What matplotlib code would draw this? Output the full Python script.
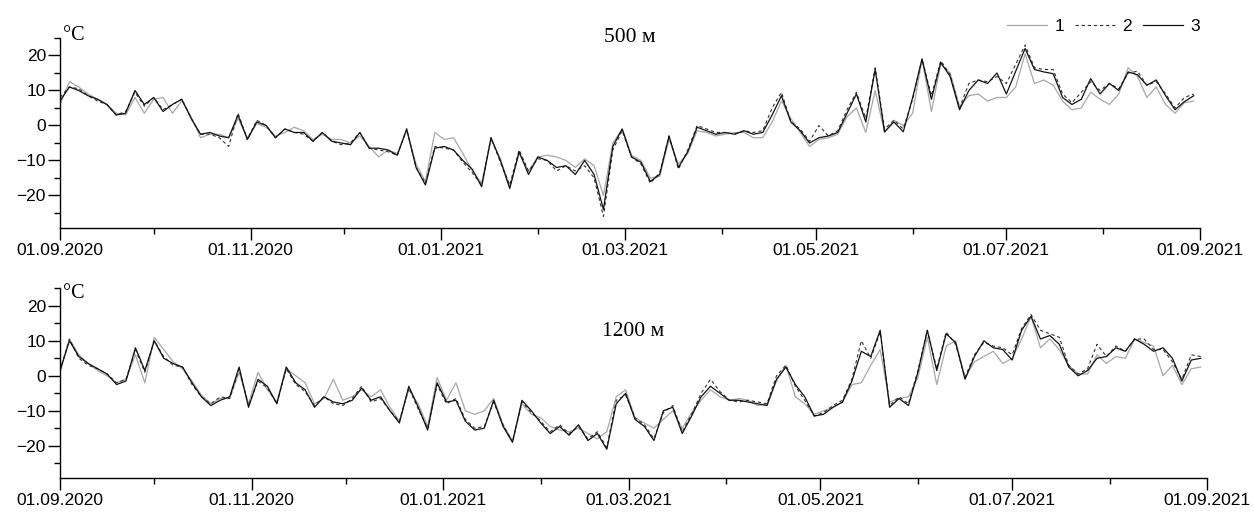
import matplotlib

matplotlib.use("Agg")
import matplotlib.dates as mdates
import matplotlib.pyplot as plt
import pandas as pd
from matplotlib.ticker import MultipleLocator


OUTPUT_PATH = "out.png"
START = pd.Timestamp("2020-09-01")
END = pd.Timestamp("2021-09-01")

# values read every 3 days from 01.09.2020; 1 - gray, 2 - dashed, 3 - black
t500_1 = [
    6, 12.5, 11, 9, 7.5, 6, 3.5, 3, 8, 3.5,
    7.5, 8, 3.5, 7, 2.5, -3.5, -2.5, -2.5, -3.5, 2,
    -3.5, 0.5, -0.5, -3, -2, -0.5, -1.5, -4, -2.5, -4,
    -4, -5, -3, -6, -9, -7, -8, -1.5, -11, -16,
    -2, -4, -3.5, -8, -13, -16.5, -4, -9.5, -17.5, -8,
    -13, -9, -8.5, -9, -10, -12, -9.5, -11.5, -20, -5,
    -1, -8.5, -10, -15, -14.5, -4, -11, -8, -1.5, -2,
    -3, -2.5, -2, -2, -3.5, -3.5, 1, 7, 2, -2,
    -6, -4, -3.5, -2.5, 2.5, 5, -2, 10, -2, 1.5,
    0, 3.5, 19, 4, 17.5, 15, 5.5, 8.5, 9, 7,
    8, 8, 11, 20.5, 12, 13, 11.5, 7, 4.5, 5,
    9.5, 7.5, 6, 9, 16.5, 14, 8, 11, 6, 3.5,
    6.5, 7,
]
t500_2 = [
    8, 11, 10.5, 8.5, 7, 6, 3, 4, 9.5, 5.5,
    8, 4.5, 6, 7.5, 2, -2.5, -2.5, -3.5, -6, 3.5,
    -4, 1.5, 0, -3.5, -1, -2, -2.5, -4.5, -2, -4.5,
    -5.5, -5, -2, -6.5, -7, -7.5, -8.5, -1, -12, -16.5,
    -6, -6.5, -7, -10.5, -13.5, -17, -3.5, -10.5, -17, -7,
    -13, -9.5, -10, -13, -11.5, -13, -11.5, -15, -26, -7,
    -1.5, -9, -11, -16.5, -13.5, -3, -12.5, -7, 0, -1,
    -2, -2, -2.5, -1.5, -2, -1.5, 5, 9.5, 1, -1,
    -4.5, 0, -3, -1.5, 4.5, 9.5, 2, 16.5, -1, 1.5,
    -1, 7.5, 19, 8.5, 18.5, 14.5, 5, 12, 13, 12.5,
    14, 12, 17.5, 23, 16.5, 16, 16, 9, 6.5, 9.5,
    12.5, 10, 12, 10.5, 15, 15.5, 11.5, 12.5, 9, 5,
    8, 9,
]
t500_3 = [
    7, 11, 10, 8.5, 7.5, 6, 3, 3.5, 10, 6,
    8, 4, 6, 7.5, 2, -2.5, -2, -3, -3.5, 3,
    -4, 1, 0, -3.5, -1, -2, -2, -4.5, -2, -4.5,
    -5, -5.5, -2, -6.5, -6.5, -7, -8.5, -1, -12, -17,
    -6.5, -6, -7, -10, -12.5, -17.5, -3.5, -10, -18, -7.5,
    -14, -9, -10, -12, -11.5, -14, -10, -14, -24, -6,
    -1, -9, -10.5, -16, -14, -3, -12, -7.5, -0.5, -1.5,
    -2.5, -2, -2.5, -1.5, -2.5, -2, 3, 8.5, 1, -1.5,
    -5, -3.5, -3, -2, 3.5, 9, 1, 16, -1.8, 1,
    -1.8, 8, 19, 7.5, 18, 14, 4.5, 10, 13, 12,
    15, 9, 15.5, 22, 16, 15.3, 14.8, 8, 6, 7.5,
    13.4, 9, 12, 10, 15.3, 14.5, 11.5, 13, 8.5, 4.5,
    6.8, 8.5,
]

t1200_1 = [
    1, 10.5, 6, 3.5, 1.5, 0, -2, -1, 6, -2,
    11, 7.5, 4, 2, -1.5, -5.5, -8, -6.5, -6.5, 1,
    -8, 1, -4, -7.5, 2, 0, -2, -8, -6.5, -1,
    -7, -6, -4, -6, -4, -9, -13, -4, -8, -14.5,
    -0.5, -7, -2, -10, -11, -10, -6.5, -14, -18.5, -8,
    -11, -12, -14.5, -15.5, -16, -15, -16.5, -18, -16, -6,
    -4, -12, -13.5, -15, -12.5, -10, -15, -10.5, -7, -4,
    -6, -7, -6.5, -7, -8.5, -8, -1.5, 3, -6, -8,
    -11, -10, -9, -7.5, -2.5, -2, 3, 7.5, -7.5, -6.5,
    -6, -0.5, 11, -2.5, 8.5, 10, -0.5, 4, 5.5, 7,
    3.5, 5, 10.5, 17, 8, 10.5, 7.5, 3, 0.5, 0.5,
    6, 3.5, 5.5, 5, 10.5, 9.5, 8.5, 0, 3, -2.5,
    2, 2.5,
]
t1200_2 = [
    1.5, 10.5, 5, 3, 2, 0.5, -2, -1, 7.5, 1,
    10, 5.5, 3, 2.5, -2.5, -6, -8, -6, -6.5, 2,
    -8.5, -1.5, -3.5, -8, 2, -2.5, -4.5, -8.5, -6, -8,
    -8.5, -6.5, -3, -7.5, -6.5, -10, -13, -3.5, -9.5, -15,
    -2.5, -8, -6.5, -12.5, -15, -14.5, -7.5, -14, -19, -7.5,
    -10.5, -13, -16, -14, -16.5, -14.5, -18, -16, -20.5, -7,
    -5.5, -12, -14, -18, -10.5, -8.5, -16, -11, -5, -1,
    -4.5, -7, -7.5, -7, -7.5, -8, 0, 3, -3, -7,
    -11.5, -10.5, -8.5, -7, -1, 10, 5, 12.5, -8.5, -6,
    -8, 1.5, 13, 2, 12.5, 9, -0.5, 6, 9.5, 8.5,
    8, 6, 13.5, 17.5, 13, 12, 11, 3, 0.5, 2,
    9, 5.5, 8.5, 7, 10.5, 10.5, 7.5, 7.5, 4, -1,
    6, 5.5,
]
t1200_3 = [
    1.5, 10, 5.5, 3.5, 2, 0.5, -2.5, -1.5, 8, 1.5,
    10, 5, 3.5, 2.5, -2, -6, -8.5, -7, -6, 2.5,
    -9, -1, -3, -8, 2.5, -2, -4, -9, -6, -7.5,
    -8, -7, -3.5, -7, -6, -10, -13.5, -3, -9, -15.5,
    -2, -7.5, -7, -13, -15.5, -15, -7, -14.5, -19, -7,
    -10, -13.5, -16.5, -14.5, -17, -14, -18.5, -16.5, -21, -8,
    -5, -12.5, -14.5, -18.5, -10, -9, -16.5, -11.5, -6, -3,
    -5, -7, -7, -7.5, -8, -8.5, -1, 2.5, -2.5, -6,
    -11.5, -11, -9, -7.5, -1.5, 7, 5.5, 13, -9, -6.5,
    -8.5, 1, 13, 1.5, 12, 9.5, -1, 5.5, 10, 8,
    7.5, 4.5, 13, 17, 10.5, 11.5, 9, 2.5, 0, 1.5,
    5, 5.5, 8, 7, 10.5, 9, 7, 8, 5, -1.5,
    4.5, 5,
]

PANELS = [
    ("500 м", t500_1, t500_2, t500_3),
    ("1200 м", t1200_1, t1200_2, t1200_3),
]


def configure_style() -> None:
    plt.rcParams.update(
        {
            "font.family": ["Liberation Sans", "DejaVu Sans"],
            "font.size": 12.5,
            "axes.linewidth": 1.0,
            "xtick.major.width": 1.0,
            "ytick.major.width": 1.0,
            "xtick.minor.width": 1.0,
            "ytick.minor.width": 1.0,
        }
    )


def style_axes(ax) -> None:
    ax.set_xlim(START, END)
    ax.set_ylim(-29.3, 25)
    for side in ["top", "right"]:
        ax.spines[side].set_visible(False)
    ax.xaxis.set_major_locator(mdates.MonthLocator(bymonth=[1, 3, 5, 7, 9, 11]))
    ax.xaxis.set_minor_locator(mdates.MonthLocator(bymonth=[2, 4, 6, 8, 10, 12]))
    ax.xaxis.set_major_formatter(mdates.DateFormatter("%d.%m.%Y"))
    ax.yaxis.set_major_locator(MultipleLocator(10))
    ax.yaxis.set_minor_locator(MultipleLocator(5))
    ax.tick_params(axis="both", which="major", length=8.6, pad=1.5, labelsize=12.5)
    ax.tick_params(axis="both", which="minor", length=4.3)
    ax.tick_params(axis="x", which="major", pad=2)


def build_figure() -> None:
    configure_style()
    fig = plt.figure(figsize=(12.54, 5.16), dpi=100)
    boxes = [
        [60 / 1254, 288 / 516, 1140 / 1254, 190 / 516],
        [60 / 1254, 37.7 / 516, 1147 / 1254, 190 / 516],
    ]
    serif = ["Liberation Serif", "DejaVu Serif"]
    title_y = [1.0, 0.77]
    unit_y = [1.013, 0.975]

    for i, (title, s1, s2, s3) in enumerate(PANELS):
        ax = fig.add_axes(boxes[i])
        dates = pd.date_range(START, periods=len(s3), freq="3D")
        ax.plot(dates, s1, color="#a8a8a8", linewidth=0.9, label="1")
        ax.plot(dates, s2, color="#333333", linewidth=0.8, linestyle=(0, (3, 2.5)), label="2")
        ax.plot(dates, s3, color="#111111", linewidth=0.9, label="3")
        style_axes(ax)
        ax.text(0.003, unit_y[i], "°C", transform=ax.transAxes, ha="left", va="center",
                fontsize=14.5, family=serif)
        ax.text(0.5, title_y[i], title, transform=ax.transAxes, ha="center", va="center",
                fontsize=15.5, family=serif)
        if i == 0:
            ax.legend(loc="center right", bbox_to_anchor=(1200 / 1254, 1 - 26 / 516),
                      bbox_transform=fig.transFigure, ncol=3, frameon=False,
                      handlelength=2.3, handletextpad=0.45, columnspacing=0.6,
                      borderpad=0, borderaxespad=0, fontsize=12.5)

    fig.savefig(OUTPUT_PATH, dpi=100, facecolor="white")
    plt.close(fig)


def main() -> int:
    build_figure()
    return 0


if __name__ == "__main__":
    raise SystemExit(main())
